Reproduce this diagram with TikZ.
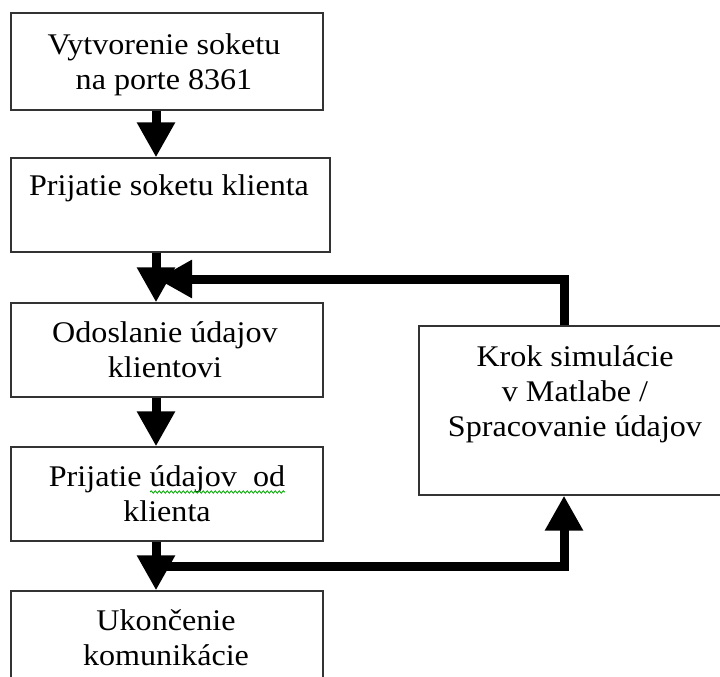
\documentclass[tikz,border=0pt]{standalone}
\usepackage{fontspec}
\setmainfont{Liberation Serif}[FakeStretch=1.07]
\usetikzlibrary{arrows.meta,decorations.pathmorphing}

\begin{document}
\begin{tikzpicture}[x=1pt, y=-1pt,
    box/.style={draw=black!80, line width=1.3pt, rectangle, inner sep=0pt},
    txt/.style={align=center, anchor=base, inner sep=0pt, font=\fontsize{30pt}{35pt}\selectfont},
    flow/.style={line width=9pt, -{Triangle[length=35pt, width=36pt]}}]
        % Picture frame
        \path[use as bounding box, clip] (0,0) rectangle (720,677);
        \fill[white] (0,0) rectangle (720,677);

        % Boxes
        \node[box, minimum width=312pt, minimum height=97pt] (vytvorenie) at (167,61.5) {};
        \node[box, minimum width=319pt, minimum height=94pt] (prijatie) at (170.5,205) {};
        \node[box, minimum width=312pt, minimum height=94pt] (odoslanie) at (167,350) {};
        \node[box, minimum width=312pt, minimum height=94pt] (prijatieud) at (167,494) {};
        \node[box, minimum width=312pt, minimum height=94pt] (ukoncenie) at (167,638) {};
        \node[box, minimum width=310pt, minimum height=169pt] (krok) at (574,410.5) {};

        % Texts (base = last line)
        \node[txt] (vytvorenie-t) at (164,89) {Vytvorenie soketu\\na porte 8361};
        \node[txt] (prijatie-t) at (169,195) {Prijatie soketu klienta};
        \node[txt] (odoslanie-t) at (165,377) {Odoslanie údajov\\klientovi};
        \node[txt] (prijatieud-t) at (167,521) {Prijatie údajov~~od\\klienta};
        \node[txt] (ukoncenie-t) at (166,665) {Ukončenie\\komunikácie};
        \node[txt] (krok-t) at (575,436) {Krok simulácie\\v Matlabe /\\Spracovanie údajov};

        % Spell check mark
        \draw[green!65!black, line width=0.8pt, decorate,
            decoration={snake, amplitude=1.2pt, segment length=4pt}] (150,492) -- (285,492);

        % Main flow
        \coordinate (spine) at (156,0);
        \coordinate (rail) at (564,0);
        \draw[flow] (vytvorenie.south -| spine) -- (prijatie.north -| spine);
        \draw[flow] (prijatie.south -| spine) -- (odoslanie.north -| spine);
        \draw[flow] (odoslanie.south -| spine) -- (prijatieud.north -| spine);
        \draw[flow] (prijatieud.south -| spine) -- (ukoncenie.north -| spine);

        % Loop through Matlab
        \coordinate (navrat) at (157,279);
        \coordinate (odbocka) at (156,566);
        \draw[flow] (krok.north -| rail) |- (navrat);
        \draw[flow] (odbocka) -| (krok.south -| rail);
\end{tikzpicture}
\end{document}
